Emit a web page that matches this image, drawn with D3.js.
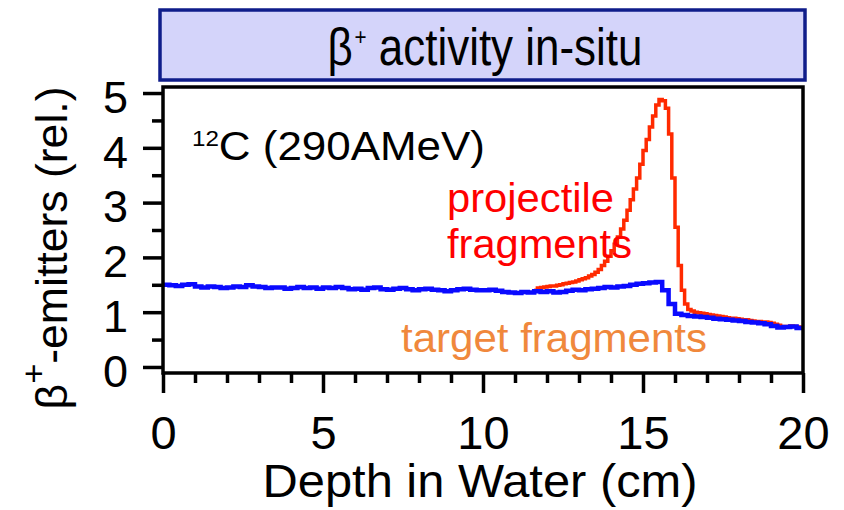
<!DOCTYPE html>
<html>
<head>
<meta charset="utf-8">
<script src="https://cdn.jsdelivr.net/npm/d3@7"></script>
<style>
body { margin: 0; background: #fff; }
text { font-family: "Liberation Sans", Arial, Helvetica, sans-serif; }
</style>
</head>
<body>
<div id="chart"></div>
<script>
// target fragments (blue), 0.2 cm bins from 0 cm
var targetStart = 0, targetBin = 0.2;
var targetFragments = [
  1.50,1.49,1.48,1.50,1.51,1.47,1.45,1.47,1.46,1.44,
  1.45,1.47,1.46,1.49,1.47,1.46,1.44,1.45,1.45,1.43,
  1.44,1.46,1.44,1.45,1.43,1.45,1.44,1.46,1.44,1.42,
  1.43,1.41,1.44,1.45,1.42,1.41,1.43,1.44,1.42,1.40,
  1.42,1.43,1.41,1.40,1.38,1.40,1.42,1.43,1.41,1.40,
  1.40,1.41,1.39,1.37,1.36,1.35,1.37,1.36,1.38,1.37,
  1.38,1.36,1.37,1.39,1.41,1.40,1.42,1.43,1.44,1.46,
  1.45,1.47,1.48,1.50,1.52,1.53,1.54,1.55,1.40,1.15,
  0.97,0.95,0.93,0.92,0.91,0.90,0.88,0.87,0.86,0.85,
  0.84,0.82,0.81,0.80,0.78,0.75,0.72,0.73,0.74,0.71
];

// projectile fragments (red), 0.1 cm bins from 11.6 cm
var projStart = 11.6, projBin = 0.1;
var projectileFragments = [
  1.40,1.44,1.45,1.46,1.47,1.48,1.48,1.49,1.50,1.52,
  1.53,1.54,1.55,1.57,1.59,1.61,1.63,1.66,1.69,1.73,
  1.78,1.85,1.93,2.02,2.12,2.24,2.37,2.52,2.68,2.86,
  3.05,3.25,3.45,3.70,3.95,4.15,4.38,4.58,4.78,4.88,
  4.86,4.72,4.25,3.45,2.55,1.85,1.40,1.15,1.05,1.02,
  1.00,0.99,0.98,0.97,0.96,0.95,0.94,0.93,0.92,0.91,
  0.90,0.89,0.89,0.88,0.87,0.86,0.86,0.85,0.84,0.83,
  0.83,0.82,0.82,0.81,0.80,0.78,0.76,0.74,0.74,0.74,
  0.75,0.74,0.73,0.72
];

var xTicks = [0, 5, 10, 15, 20];
var xMinor = [1,2,3,4,6,7,8,9,11,12,13,14,16,17,18,19];
var yTicks = [0, 1, 2, 3, 4, 5];
var yMinor = [0.5, 1.5, 2.5, 3.5, 4.5];

var margin = {top: 87, right: 41, bottom: 137, left: 163},
  width = 844 - margin.left - margin.right,
  height = 510 - margin.top - margin.bottom;

var svg = d3.select('#chart')
  .append('svg')
    .attr('width', 844)
    .attr('height', 510);

// title box
svg.append('rect')
  .attr('x', 160).attr('y', 10)
  .attr('width', 645).attr('height', 70)
  .attr('fill', '#d4d4fa')
  .attr('stroke', '#0f1d8a')
  .attr('stroke-width', 3.5);

var title = svg.append('text')
  .attr('x', 485).attr('y', 65)
  .attr('text-anchor', 'middle')
  .attr('font-size', 51)
  .attr('textLength', 315)
  .attr('lengthAdjust', 'spacingAndGlyphs');
title.append('tspan').text('β');
title.append('tspan').attr('font-size', 24).attr('dx', 2).attr('dy', -20).text('+');
title.append('tspan').attr('dy', 20).text(' activity in-situ');

var g = svg.append('g')
  .attr('transform', 'translate(' + margin.left + ',' + margin.top + ')');

var x = d3.scaleLinear().domain([0, 20]).range([0, width]);
var y = d3.scaleLinear().domain([-0.11, 5.11]).range([height, 0]);

// axes
var xAxis = g.append('g')
  .attr('transform', 'translate(0,' + height + ')')
  .call(d3.axisBottom(x).tickValues(xTicks).tickSize(20).tickPadding(23).tickFormat(d3.format('d')));
var xMinorAxis = g.append('g')
  .attr('transform', 'translate(0,' + height + ')')
  .call(d3.axisBottom(x).tickValues(xMinor).tickSize(10).tickFormat(''));
var yAxis = g.append('g')
  .call(d3.axisLeft(y).tickValues(yTicks).tickSize(20).tickPadding(15).tickFormat(d3.format('d')));
var yMinorAxis = g.append('g')
  .call(d3.axisLeft(y).tickValues(yMinor).tickSize(11).tickFormat(''));

[xAxis, xMinorAxis, yAxis, yMinorAxis].forEach(function(a) {
  a.select('.domain').remove();
  a.selectAll('line').attr('stroke', '#000').attr('stroke-width', 3.5);
  a.selectAll('text')
    .attr('fill', '#000')
    .style('font-family', '"Liberation Sans", Arial, Helvetica, sans-serif');
});
xAxis.selectAll('text').attr('font-size', 47);
yAxis.selectAll('text').attr('font-size', 45).attr('dy', '0.43em');

// step curves
function steps(start, bin, values) {
  var pts = values.map(function(v, i) { return [start + i * bin, v]; });
  pts.push([start + values.length * bin, values[values.length - 1]]);
  return pts;
}

var line = d3.line()
  .x(function(d) { return x(d[0]); })
  .y(function(d) { return y(d[1]); })
  .curve(d3.curveStepAfter);

g.append('path')
  .datum(steps(projStart, projBin, projectileFragments))
  .attr('fill', 'none')
  .attr('stroke', '#ff2a00')
  .attr('stroke-width', 3.5)
  .attr('d', line);

g.append('path')
  .datum(steps(targetStart, targetBin, targetFragments))
  .attr('fill', 'none')
  .attr('stroke', '#0a0aff')
  .attr('stroke-width', 4.5)
  .attr('d', line);

// frame
g.append('rect')
  .attr('width', width).attr('height', height)
  .attr('fill', 'none')
  .attr('stroke', '#000')
  .attr('stroke-width', 3.5);

// annotations
var ion = svg.append('text')
  .attr('x', 192).attr('y', 160)
  .attr('font-size', 40)
  .attr('textLength', 293)
  .attr('lengthAdjust', 'spacingAndGlyphs');
ion.append('tspan').attr('font-size', 22).attr('dy', -14).text('12');
ion.append('tspan').attr('dy', 14).text('C (290AMeV)');

svg.append('text')
  .attr('x', 447).attr('y', 212)
  .attr('font-size', 41).attr('fill', '#ff0000')
  .attr('textLength', 167).attr('lengthAdjust', 'spacingAndGlyphs')
  .text('projectile');
svg.append('text')
  .attr('x', 447).attr('y', 258)
  .attr('font-size', 41).attr('fill', '#ff0000')
  .attr('textLength', 185).attr('lengthAdjust', 'spacingAndGlyphs')
  .text('fragments');
svg.append('text')
  .attr('x', 401).attr('y', 352)
  .attr('font-size', 41).attr('fill', '#f0883c')
  .attr('textLength', 306).attr('lengthAdjust', 'spacingAndGlyphs')
  .text('target fragments');

// axis titles
svg.append('text')
  .attr('x', 480).attr('y', 497)
  .attr('text-anchor', 'middle')
  .attr('font-size', 47)
  .attr('textLength', 435).attr('lengthAdjust', 'spacingAndGlyphs')
  .text('Depth in Water (cm)');

var yTitle = svg.append('text')
  .attr('transform', 'translate(67,248) rotate(-90)')
  .attr('text-anchor', 'middle')
  .attr('font-size', 44)
  .attr('textLength', 323).attr('lengthAdjust', 'spacingAndGlyphs');
yTitle.append('tspan').text('β');
yTitle.append('tspan').attr('font-size', 34).attr('dy', -22).text('+');
yTitle.append('tspan').attr('dy', 22).text('-emitters (rel.)');
</script>
</body>
</html>
